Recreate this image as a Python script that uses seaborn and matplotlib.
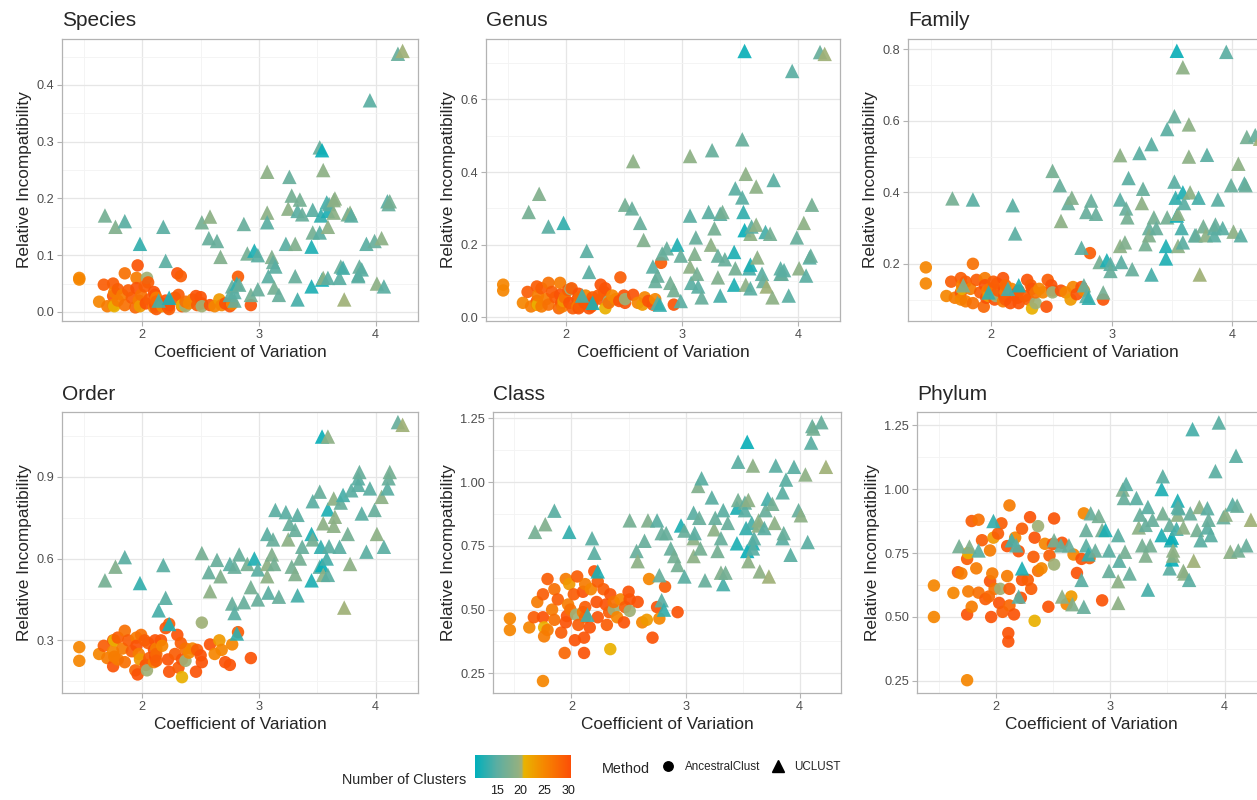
import pandas as pd
import seaborn as sns
import matplotlib.pyplot as plt
from matplotlib.colors import LinearSegmentedColormap, Normalize
from matplotlib.cm import ScalarMappable
from matplotlib.lines import Line2D
from matplotlib.ticker import FixedLocator

levels = ['Species', 'Genus', 'Family', 'Order', 'Class', 'Phylum']

# AncestralClust runs: coefficient of variation + number of clusters (shared across levels)
ac_cv = [1.46, 1.46, 1.63, 1.67, 1.70, 1.75, 1.75, 1.75, 1.76, 1.76,
         1.79, 1.79, 1.83, 1.85, 1.85, 1.88, 1.91, 1.94, 1.95, 1.95,
         1.96, 1.97, 1.98, 1.99, 2.02, 2.03, 2.04, 2.05, 2.06, 2.10,
         2.10, 2.11, 2.11, 2.12, 2.12, 2.12, 2.16, 2.17, 2.20, 2.22,
         2.23, 2.23, 2.28, 2.30, 2.31, 2.33, 2.34, 2.34, 2.37, 2.37,
         2.40, 2.43, 2.46, 2.47, 2.50, 2.51, 2.51, 2.58, 2.62, 2.66,
         2.68, 2.71, 2.75, 2.77, 2.82, 2.93]
ac_clusters = [25, 25, 25, 29, 26, 29, 30, 25, 21, 26,
               29, 26, 26, 27, 27, 29, 29, 28, 26, 30,
               30, 26, 23, 27, 29, 30, 20, 29, 29, 30,
               26, 30, 30, 26, 28, 29, 30, 25, 30, 30,
               29, 30, 29, 30, 29, 29, 30, 21, 20, 27,
               25, 25, 30, 29, 30, 30, 20, 30, 25, 23,
               25, 30, 30, 25, 29, 30]

ac_species = [0.060, 0.057, 0.018, 0.048, 0.010, 0.050, 0.028, 0.012, 0.010, 0.035,
              0.040, 0.020, 0.030, 0.068, 0.012, 0.038, 0.025, 0.008, 0.060, 0.042,
              0.082, 0.020, 0.010, 0.030, 0.045, 0.015, 0.060, 0.052, 0.022, 0.035,
              0.008, 0.030, 0.012, 0.025, 0.018, 0.005, 0.015, 0.010, 0.020, 0.008,
              0.005, 0.012, 0.025, 0.068, 0.030, 0.063, 0.010, 0.012, 0.010, 0.018,
              0.015, 0.022, 0.028, 0.012, 0.026, 0.015, 0.010, 0.012, 0.010, 0.022,
              0.012, 0.015, 0.010, 0.014, 0.062, 0.012]
ac_genus = [0.090, 0.074, 0.040, 0.070, 0.030, 0.085, 0.045, 0.035, 0.035, 0.060,
            0.080, 0.030, 0.050, 0.095, 0.035, 0.070, 0.055, 0.025, 0.095, 0.062,
            0.040, 0.030, 0.045, 0.055, 0.075, 0.040, 0.078, 0.080, 0.025, 0.050,
            0.030, 0.065, 0.025, 0.045, 0.055, 0.030, 0.040, 0.060, 0.025, 0.030,
            0.055, 0.040, 0.060, 0.090, 0.050, 0.070, 0.080, 0.025, 0.045, 0.040,
            0.060, 0.050, 0.045, 0.110, 0.060, 0.040, 0.050, 0.062, 0.040, 0.035,
            0.055, 0.045, 0.035, 0.050, 0.150, 0.035]
ac_family = [0.190, 0.145, 0.110, 0.150, 0.105, 0.160, 0.120, 0.100, 0.130, 0.140,
             0.150, 0.095, 0.130, 0.200, 0.090, 0.155, 0.120, 0.080, 0.160, 0.140,
             0.105, 0.125, 0.110, 0.130, 0.150, 0.100, 0.110, 0.145, 0.125, 0.160,
             0.095, 0.130, 0.110, 0.120, 0.140, 0.100, 0.090, 0.130, 0.115, 0.105,
             0.125, 0.090, 0.110, 0.155, 0.100, 0.140, 0.130, 0.075, 0.090, 0.120,
             0.130, 0.120, 0.080, 0.155, 0.140, 0.125, 0.120, 0.125, 0.120, 0.100,
             0.135, 0.115, 0.135, 0.125, 0.230, 0.100]
ac_order = [0.275, 0.225, 0.250, 0.280, 0.235, 0.300, 0.205, 0.260, 0.300, 0.240,
            0.310, 0.230, 0.270, 0.335, 0.220, 0.300, 0.260, 0.190, 0.310, 0.280,
            0.175, 0.250, 0.230, 0.320, 0.300, 0.210, 0.190, 0.290, 0.235, 0.265,
            0.220, 0.300, 0.240, 0.270, 0.250, 0.225, 0.300, 0.280, 0.345, 0.230,
            0.360, 0.185, 0.250, 0.320, 0.200, 0.290, 0.230, 0.165, 0.225, 0.270,
            0.255, 0.270, 0.185, 0.265, 0.245, 0.220, 0.365, 0.285, 0.250, 0.300,
            0.265, 0.220, 0.210, 0.285, 0.330, 0.235]
ac_class = [0.465, 0.420, 0.430, 0.470, 0.530, 0.560, 0.470, 0.220, 0.430, 0.395,
            0.620, 0.420, 0.500, 0.580, 0.460, 0.540, 0.410, 0.330, 0.620, 0.450,
            0.475, 0.520, 0.600, 0.500, 0.560, 0.380, 0.480, 0.630, 0.440, 0.570,
            0.490, 0.330, 0.390, 0.600, 0.470, 0.510, 0.430, 0.580, 0.650, 0.530,
            0.610, 0.470, 0.580, 0.520, 0.440, 0.490, 0.560, 0.345, 0.500, 0.530,
            0.470, 0.540, 0.450, 0.510, 0.570, 0.540, 0.495, 0.530, 0.450, 0.460,
            0.620, 0.390, 0.510, 0.465, 0.590, 0.490]
ac_phylum = [0.623, 0.500, 0.594, 0.675, 0.670, 0.727, 0.510, 0.253, 0.750, 0.600,
             0.875, 0.540, 0.690, 0.880, 0.595, 0.800, 0.570, 0.580, 0.760, 0.640,
             0.500, 0.670, 0.810, 0.610, 0.826, 0.555, 0.610, 0.866, 0.520, 0.777,
             0.660, 0.437, 0.404, 0.936, 0.545, 0.610, 0.510, 0.810, 0.757, 0.575,
             0.845, 0.645, 0.645, 0.890, 0.610, 0.735, 0.810, 0.485, 0.855, 0.680,
             0.690, 0.786, 0.540, 0.740, 0.785, 0.885, 0.705, 0.790, 0.550, 0.580,
             0.744, 0.672, 0.727, 0.905, 0.730, 0.565]

# UCLUST runs
uc_cv = [1.68, 1.77, 1.85, 1.98, 2.14, 2.18, 2.20, 2.23, 2.51, 2.57,
         2.58, 2.64, 2.67, 2.75, 2.77, 2.79, 2.79, 2.81, 2.83, 2.87,
         2.90, 2.93, 2.96, 2.99, 2.99, 3.07, 3.07, 3.07, 3.08, 3.11,
         3.12, 3.13, 3.14, 3.17, 3.23, 3.25, 3.26, 3.28, 3.31, 3.31,
         3.33, 3.33, 3.35, 3.37, 3.45, 3.45, 3.46, 3.46, 3.52, 3.52,
         3.53, 3.54, 3.54, 3.55, 3.55, 3.58, 3.59, 3.59, 3.59, 3.60,
         3.64, 3.64, 3.65, 3.69, 3.70, 3.72, 3.73, 3.76, 3.78, 3.79,
         3.85, 3.85, 3.86, 3.88, 3.92, 3.95, 3.99, 4.01, 4.05, 4.07,
         4.10, 4.11, 4.12, 4.19, 4.23]
uc_clusters = [17, 18, 15, 13, 14, 15, 15, 12, 17, 16,
               19, 16, 18, 15, 16, 16, 15, 13, 16, 16,
               17, 17, 12, 15, 16, 19, 19, 15, 15, 18,
               16, 17, 15, 16, 15, 19, 16, 17, 16, 18,
               15, 14, 17, 16, 12, 12, 15, 17, 16, 15,
               13, 11, 11, 19, 19, 14, 19, 12, 15, 15,
               19, 19, 19, 15, 16, 14, 20, 17, 19, 15,
               15, 15, 16, 15, 15, 15, 16, 19, 19, 15,
               15, 16, 17, 16, 20]

uc_species = [0.170, 0.150, 0.160, 0.120, 0.020, 0.150, 0.090, 0.025, 0.158, 0.130,
              0.168, 0.125, 0.097, 0.030, 0.045, 0.020, 0.035, 0.050, 0.048, 0.155,
              0.103, 0.030, 0.108, 0.100, 0.040, 0.247, 0.175, 0.158, 0.063, 0.097,
              0.088, 0.043, 0.080, 0.030, 0.120, 0.182, 0.238, 0.205, 0.063, 0.120,
              0.178, 0.022, 0.198, 0.172, 0.115, 0.045, 0.180, 0.140, 0.290, 0.140,
              0.170, 0.285, 0.057, 0.060, 0.250, 0.193, 0.150, 0.178, 0.060, 0.190,
              0.197, 0.175, 0.200, 0.060, 0.080, 0.078, 0.022, 0.172, 0.175, 0.170,
              0.065, 0.063, 0.080, 0.075, 0.120, 0.373, 0.125, 0.050, 0.130, 0.045,
              0.195, 0.190, 0.195, 0.455, 0.460]
uc_genus = [0.290, 0.340, 0.250, 0.260, 0.060, 0.183, 0.125, 0.040, 0.310, 0.300,
            0.430, 0.260, 0.213, 0.140, 0.100, 0.115, 0.040, 0.035, 0.176, 0.190,
            0.095, 0.075, 0.200, 0.045, 0.170, 0.444, 0.140, 0.280, 0.095, 0.175,
            0.220, 0.120, 0.085, 0.055, 0.290, 0.200, 0.460, 0.245, 0.170, 0.110,
            0.285, 0.060, 0.290, 0.160, 0.180, 0.090, 0.355, 0.135, 0.490, 0.330,
            0.290, 0.733, 0.240, 0.090, 0.395, 0.135, 0.230, 0.145, 0.080, 0.250,
            0.360, 0.255, 0.165, 0.120, 0.100, 0.235, 0.085, 0.230, 0.055, 0.378,
            0.135, 0.120, 0.120, 0.130, 0.060, 0.678, 0.220, 0.135, 0.260, 0.115,
            0.165, 0.170, 0.310, 0.730, 0.725]
uc_family = [0.383, 0.140, 0.380, 0.120, 0.130, 0.364, 0.285, 0.140, 0.460, 0.420,
             0.320, 0.370, 0.385, 0.245, 0.140, 0.345, 0.110, 0.105, 0.377, 0.340,
             0.205, 0.120, 0.210, 0.200, 0.180, 0.504, 0.250, 0.380, 0.205, 0.260,
             0.355, 0.330, 0.440, 0.185, 0.510, 0.370, 0.410, 0.255, 0.300, 0.280,
             0.535, 0.170, 0.330, 0.300, 0.250, 0.215, 0.577, 0.330, 0.613, 0.430,
             0.385, 0.796, 0.335, 0.250, 0.340, 0.300, 0.750, 0.400, 0.260, 0.370,
             0.590, 0.500, 0.400, 0.280, 0.280, 0.385, 0.170, 0.305, 0.280, 0.505,
             0.300, 0.280, 0.310, 0.380, 0.300, 0.793, 0.420, 0.290, 0.480, 0.280,
             0.425, 0.420, 0.555, 0.560, 0.550]
uc_order = [0.520, 0.570, 0.605, 0.510, 0.410, 0.576, 0.456, 0.360, 0.620, 0.550,
            0.480, 0.595, 0.535, 0.580, 0.435, 0.570, 0.400, 0.325, 0.615, 0.440,
            0.580, 0.495, 0.600, 0.560, 0.450, 0.580, 0.535, 0.690, 0.475, 0.615,
            0.670, 0.580, 0.778, 0.460, 0.770, 0.670, 0.727, 0.570, 0.705, 0.543,
            0.760, 0.465, 0.600, 0.643, 0.690, 0.520, 0.810, 0.670, 0.845, 0.570,
            0.643, 1.047, 0.576, 0.540, 0.729, 0.600, 1.047, 0.780, 0.540, 0.645,
            0.820, 0.720, 0.753, 0.643, 0.805, 0.833, 0.420, 0.690, 0.580, 0.850,
            0.894, 0.870, 0.917, 0.765, 0.625, 0.857, 0.778, 0.690, 0.826, 0.643,
            0.857, 0.894, 0.917, 1.100, 1.090]
uc_class = [0.805, 0.835, 0.888, 0.805, 0.480, 0.780, 0.723, 0.650, 0.850, 0.730,
            0.690, 0.770, 0.850, 0.850, 0.635, 0.800, 0.537, 0.500, 0.800, 0.740,
            0.710, 0.675, 0.830, 0.630, 0.810, 0.780, 0.710, 0.880, 0.800, 0.985,
            0.860, 0.740, 1.015, 0.615, 0.940, 0.815, 0.860, 0.730, 0.780, 0.645,
            0.890, 0.600, 0.645, 0.840, 0.900, 0.760, 1.080, 0.930, 0.920, 0.890,
            0.820, 1.158, 0.730, 0.690, 0.930, 0.840, 1.065, 0.760, 0.740, 0.780,
            0.830, 0.850, 0.650, 0.820, 0.890, 0.935, 0.630, 0.915, 0.840, 1.065,
            0.960, 0.780, 0.800, 1.010, 0.715, 1.060, 0.890, 0.870, 1.030, 0.765,
            1.155, 1.220, 1.210, 1.235, 1.060]
uc_phylum = [0.777, 0.775, 0.760, 0.875, 0.800, 0.780, 0.580, 0.690, 0.800, 0.780,
             0.580, 0.780, 0.550, 0.645, 0.540, 0.840, 0.780, 0.745, 0.905, 0.760,
             0.895, 0.840, 0.840, 0.760, 0.680, 0.555, 0.640, 0.820, 0.720, 0.998,
             0.965, 0.755, 1.020, 0.670, 0.965, 0.850, 0.900, 0.780, 0.860, 0.740,
             0.930, 0.607, 0.780, 0.880, 0.820, 1.000, 1.050, 0.905, 0.860, 0.690,
             0.800, 0.810, 0.725, 0.760, 0.740, 0.845, 0.900, 0.955, 0.930, 0.925,
             0.850, 0.680, 0.670, 0.645, 0.905, 1.234, 0.720, 0.840, 0.930, 0.800,
             0.925, 0.850, 0.880, 0.820, 1.070, 1.260, 0.890, 0.900, 0.755, 0.940,
             1.130, 0.935, 0.760, 0.780, 0.880]

# y axis ticks per panel
yticks = {'Species': [0.0, 0.1, 0.2, 0.3, 0.4],
          'Genus': [0.0, 0.2, 0.4, 0.6],
          'Family': [0.2, 0.4, 0.6, 0.8],
          'Order': [0.3, 0.6, 0.9],
          'Class': [0.25, 0.50, 0.75, 1.00, 1.25],
          'Phylum': [0.25, 0.50, 0.75, 1.00, 1.25]}
xticks = [2, 3, 4]
cbar_ticks = [15, 20, 25, 30]

#build long table
frames = []
ac_all = [ac_species, ac_genus, ac_family, ac_order, ac_class, ac_phylum]
uc_all = [uc_species, uc_genus, uc_family, uc_order, uc_class, uc_phylum]
for lvl, ac_y, uc_y in zip(levels, ac_all, uc_all):
    frames.append(pd.DataFrame({'level': lvl, 'method': 'AncestralClust', 'cv': ac_cv,
                                'ri': ac_y, 'clusters': ac_clusters}))
    frames.append(pd.DataFrame({'level': lvl, 'method': 'UCLUST', 'cv': uc_cv,
                                'ri': uc_y, 'clusters': uc_clusters}))
df = pd.concat(frames, ignore_index=True)

# colour scale (teal -> olive -> yellow -> red-orange)
vmin, vmax = 10.5, 30.5
stops = [(10.5, '#00AFBB'), (15, '#5BAEA2'), (19.5, '#92B081'), (20.2, '#A5B072'),
         (20.7, '#E9B300'), (25, '#F68600'), (30.5, '#FC4E07')]
cmap = LinearSegmentedColormap.from_list(
    'clusters', [((v - vmin) / (vmax - vmin), c) for v, c in stops])
norm = Normalize(vmin, vmax)

sns.set_theme(style='white')
plt.rcParams['font.family'] = ['Liberation Sans', 'DejaVu Sans']

W, H = 1257, 800
fig = plt.figure(figsize=(W / 100, H / 100), dpi=100)

# panel boxes in pixels (left, top, right, bottom)
boxes = {'Species': (62, 39, 418, 321), 'Genus': (486, 39, 840, 321),
         'Family': (908, 39, 1276, 321), 'Order': (62, 412, 418, 693),
         'Class': (493, 412, 841, 693), 'Phylum': (917, 412, 1266, 693)}
ylims = {'Species': (-0.016, 0.481), 'Genus': (-0.010, 0.766), 'Family': (0.040, 0.829),
         'Order': (0.107, 1.137), 'Class': (0.173, 1.275), 'Phylum': (0.203, 1.301)}
decimals = {'Species': 1, 'Genus': 1, 'Family': 1, 'Order': 1, 'Class': 2, 'Phylum': 2}

for lvl in levels:
    l, t, r, b = boxes[lvl]
    ax = fig.add_axes([l / W, 1 - b / H, (r - l) / W, (b - t) / H])
    sub = df[df.level == lvl]
    sns.scatterplot(data=sub[sub.method == 'AncestralClust'], x='cv', y='ri', hue='clusters',
                    palette=cmap, hue_norm=norm, marker='o', s=80, linewidth=0,
                    alpha=0.92, legend=False, ax=ax)
    sns.scatterplot(data=sub[sub.method == 'UCLUST'], x='cv', y='ri', hue='clusters',
                    palette=cmap, hue_norm=norm, marker='^', s=108, linewidth=0,
                    alpha=0.92, legend=False, ax=ax)

    ax.set_xlim(1.312, 4.362)
    ax.set_ylim(*ylims[lvl])
    ax.set_xticks(xticks)
    yt = yticks[lvl]
    ax.set_yticks(yt)
    ax.set_yticklabels([f'{v:.{decimals[lvl]}f}' for v in yt])
    step = yt[1] - yt[0]
    ax.xaxis.set_minor_locator(FixedLocator([1.5, 2.5, 3.5]))
    ax.yaxis.set_minor_locator(FixedLocator([yt[0] - step / 2] + [v + step / 2 for v in yt]))
    ax.grid(which='major', color='#E6E6E6', linewidth=0.9)
    ax.grid(which='minor', color='#F3F3F3', linewidth=0.6)
    ax.set_axisbelow(True)
    for sp in ax.spines.values():
        sp.set_color('#B3B3B3')
        sp.set_linewidth(0.9)
    ax.tick_params(which='major', length=3.5, width=0.8, color='#B3B3B3',
                   labelcolor='#4D4D4D', labelsize=9.2, pad=2, left=True, bottom=True)
    ax.tick_params(which='minor', length=0)
    ax.set_title(lvl, loc='left', fontsize=15, pad=9)
    ax.set_xlabel('Coefficient of Variation', fontsize=12.4, labelpad=3)
    ax.set_ylabel('Relative Incompatibility', fontsize=12.4, labelpad=3)

# colour bar legend
fig.text(342 / W, 1 - 784 / H, 'Number of Clusters', fontsize=10.4, ha='left', va='baseline')
cax = fig.add_axes([475 / W, 1 - 778 / H, 96 / W, 23 / H])
cbar = fig.colorbar(ScalarMappable(norm=norm, cmap=cmap), cax=cax,
                    orientation='horizontal', ticks=cbar_ticks)
cbar.outline.set_visible(False)
cbar.minorticks_off()
cax.tick_params(axis='x', which='major', top=True, bottom=True, direction='in',
                length=4.5, width=0.8, color='white', labelsize=9, pad=5,
                labelcolor='#1A1A1A')

# shape legend
fig.text(602 / W, 1 - 773 / H, 'Method', fontsize=10.4, ha='left', va='baseline')
handles = [Line2D([], [], marker='o', color='black', linestyle='', markersize=6.8),
           Line2D([], [], marker='^', color='black', linestyle='', markersize=9)]
fig.legend(handles, ['AncestralClust', 'UCLUST'], loc='center left',
           bbox_to_anchor=(662 / W, 1 - 767 / H), ncol=2, frameon=False, fontsize=8.4,
           handlelength=1.0, handletextpad=0.95, columnspacing=1.0,
           borderpad=0, borderaxespad=0)

fig.savefig('out.png', dpi=100, facecolor='white')
